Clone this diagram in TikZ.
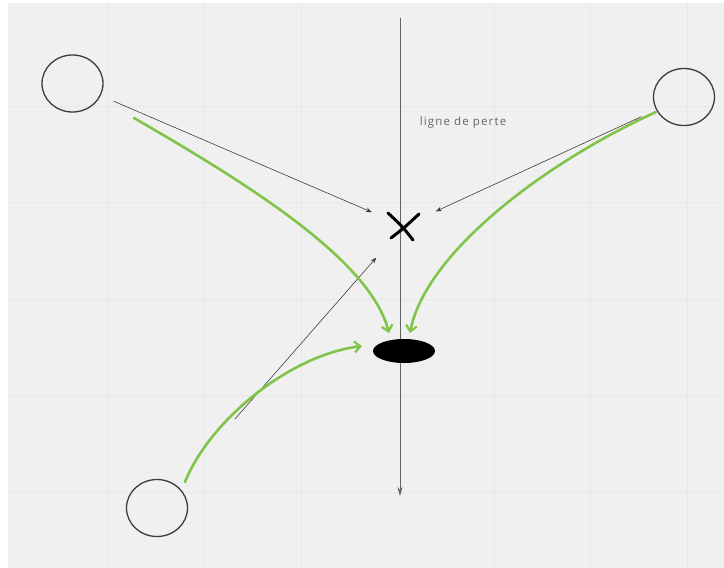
\documentclass[tikz,border=0pt]{standalone}
\usepackage{fontspec}
\setsansfont{Open Sans}
\usetikzlibrary{arrows.meta,shapes.geometric}
\definecolor{bg}{RGB}{240,240,240}
\definecolor{gridc}{RGB}{232,232,232}
\definecolor{grn}{RGB}{128,196,74}
\definecolor{inkc}{RGB}{60,60,60}
\tikzset{
  player/.style={ellipse,draw=inkc,line width=1.3pt,minimum width=61pt,minimum height=57pt,inner sep=0pt},
  hole/.style={ellipse,fill=black,minimum width=62pt,minimum height=24pt,inner sep=0pt},
  thin/.style={draw=inkc,line width=0.6pt,-{Stealth[length=6pt,width=4.5pt]}},
  greenarr/.style={draw=grn,line width=2.6pt,line cap=round,-{Straight Barb[length=6pt,width=11pt,line width=2.2pt]}},
  lbl/.style={font=\sffamily\fontsize{11.5}{13}\selectfont\addfontfeature{LetterSpace=10},text=gray!80!black}
}
\begin{document}
\begin{tikzpicture}[x=1pt,y=-1pt]
\useasboundingbox (0,0) rectangle (724,568);
\fill[white] (0,0) rectangle (724,568);
\fill[bg] (8,3) rectangle (724,568);
\foreach \gx in {108,204.5,301,494,590.5,687} {\draw[gridc,line width=1pt] (\gx,3) -- (\gx,568);}
\foreach \gy in {106,202.5,299,395.5,492} {\draw[gridc,line width=1pt] (8,\gy) -- (724,\gy);}
% axis
\coordinate (top) at (400,18);
\coordinate (bot) at (400,496);
\draw[draw=inkc!80,line width=0.9pt,-{Stealth[length=9pt,width=5pt]}] (top) -- (bot);
\node[lbl] (lp) at (463,123) {ligne de perte};
% players
\node[player] (A) at (72.5,83.5) {};
\node[player] (B) at (684,97) {};
\node[player] (C) at (157,508) {};
% x mark
\node[inner sep=0pt,minimum size=0pt] (X) at (404,226) {};
\draw[black,line width=3pt,line cap=round] ([xshift=-13pt,yshift=-12pt]X.center) .. controls ([xshift=0pt,yshift=-2pt]X.center) .. ([xshift=15pt,yshift=12pt]X.center);
\draw[black,line width=3pt,line cap=round] ([xshift=9pt,yshift=-14pt]X.center) .. controls ([xshift=-2pt,yshift=0pt]X.center) .. ([xshift=-16pt,yshift=13pt]X.center);
% hole
\node[hole] (H) at (404,351) {};
% thin arrows
\draw[thin,shorten <=14pt,shorten >=35pt] (A) -- (X.center);
\draw[thin,shorten <=16pt,shorten >=35pt] (B) -- (X.center);
\draw[thin,shorten <=118pt,shorten >=42pt] (C.center) -- (X.center);
% green curves
\coordinate (g1s) at (134,118);
\coordinate (g1e) at (389,333);
\coordinate (g2s) at (656,112);
\coordinate (g2e) at (410,333);
\coordinate (g3s) at (185,482);
\coordinate (g3e) at (362,346);
\draw[greenarr] (g1s) .. controls (250,185) and (370,260) .. (g1e);
\draw[greenarr] (g2s) .. controls (540,165) and (425,255) .. (g2e);
\draw[greenarr] (g3s) .. controls (210,420) and (290,355) .. (g3e);
\end{tikzpicture}
\end{document}
